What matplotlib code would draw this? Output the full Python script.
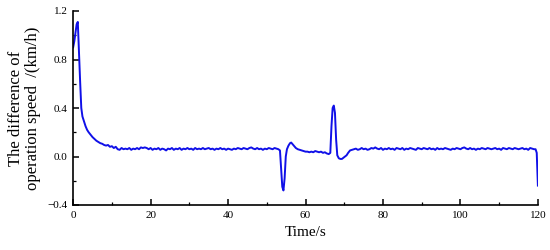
import numpy as np
import matplotlib.pyplot as plt
from matplotlib.ticker import MultipleLocator

plt.rcParams['font.family'] = ['Liberation Serif', 'DejaVu Serif']

# speed difference (km/h), piece by piece
# start-up peak
t_start = [0, 0.3, 0.6, 0.9, 1.2, 1.5, 1.8, 2.1, 2.4, 2.8, 3.2, 3.6,
           4.0, 4.5, 5.0, 5.5, 6.0, 6.5, 7.0, 7.5, 8.0, 8.5, 9.0, 9.5]
v_start = [0.90, 0.95, 1.02, 1.09, 1.11, 0.86, 0.62, 0.40, 0.33, 0.29, 0.25, 0.22,
           0.20, 0.18, 0.16, 0.145, 0.13, 0.12, 0.11, 0.105, 0.095, 0.09, 0.095, 0.08]

# steady part, sampled every 0.5 s from 10 s to 52.5 s
t_flat1 = np.arange(10, 53, 0.5)
v_flat1 = [0.085, 0.07, 0.08, 0.06, 0.055, 0.07, 0.06, 0.065, 0.06, 0.07,
           0.055, 0.065, 0.06, 0.07, 0.06, 0.075, 0.07, 0.075, 0.07, 0.06,
           0.07, 0.055, 0.065, 0.06, 0.07, 0.055, 0.065, 0.06, 0.05, 0.065,
           0.06, 0.07, 0.055, 0.065, 0.06, 0.07, 0.055, 0.065, 0.06, 0.07,
           0.06, 0.065, 0.055, 0.07, 0.06, 0.065, 0.06, 0.07, 0.06, 0.065,
           0.07, 0.06, 0.065, 0.055, 0.065, 0.06, 0.07, 0.06, 0.065, 0.055,
           0.065, 0.06, 0.055, 0.065, 0.06, 0.07, 0.065, 0.06, 0.07, 0.065,
           0.06, 0.07, 0.075, 0.065, 0.06, 0.07, 0.06, 0.065, 0.055, 0.065,
           0.06, 0.07, 0.065, 0.06, 0.07, 0.065]

# dip near 54 s
t_dip = [53.0, 53.4, 53.7, 54.0, 54.3, 54.6, 54.9, 55.2, 55.6, 56.0, 56.3, 56.7, 57.1, 57.5, 58.0]
v_dip = [0.06, 0.05, -0.10, -0.25, -0.28, -0.18, 0.0, 0.06, 0.09, 0.11, 0.115, 0.10, 0.085, 0.07, 0.06]

# lower steady part 58.5 s .. 66 s
t_mid = np.arange(58.5, 66.5, 0.5)
v_mid = [0.055, 0.05, 0.045, 0.04, 0.04, 0.035, 0.04, 0.035,
         0.045, 0.04, 0.035, 0.04, 0.03, 0.035, 0.025, 0.02]

# spike near 67 s
t_spike = [66.4, 66.7, 67.0, 67.3, 67.6, 67.9, 68.2, 68.6, 69.0, 69.4, 69.8, 70.2, 70.6, 71.0, 71.5]
v_spike = [0.03, 0.25, 0.40, 0.42, 0.36, 0.14, 0.01, -0.015, -0.02, -0.02, -0.01, 0.0, 0.01, 0.03, 0.05]

# steady part 72 s .. 119 s
t_flat2 = np.arange(72, 119.5, 0.5)
v_flat2 = [0.055, 0.06, 0.065, 0.055, 0.06, 0.07, 0.06, 0.065, 0.055, 0.06,
           0.07, 0.065, 0.075, 0.065, 0.06, 0.07, 0.055, 0.065, 0.06, 0.07,
           0.06, 0.065, 0.055, 0.07, 0.065, 0.06, 0.07, 0.055, 0.065, 0.06,
           0.07, 0.065, 0.06, 0.055, 0.07, 0.065, 0.06, 0.07, 0.065, 0.06,
           0.07, 0.06, 0.065, 0.055, 0.07, 0.06, 0.065, 0.06, 0.07, 0.065,
           0.06, 0.055, 0.065, 0.06, 0.07, 0.065, 0.06, 0.07, 0.075, 0.065,
           0.06, 0.07, 0.06, 0.065, 0.055, 0.065, 0.06, 0.07, 0.065, 0.06,
           0.07, 0.065, 0.06, 0.065, 0.07, 0.06, 0.065, 0.055, 0.07, 0.065,
           0.06, 0.07, 0.065, 0.06, 0.07, 0.065, 0.06, 0.065, 0.07, 0.06,
           0.065, 0.055, 0.07, 0.065, 0.06]

# final drop
t_end = [119.4, 119.7, 120]
v_end = [0.06, 0.03, -0.24]

time = np.concatenate([t_start, t_flat1, t_dip, t_mid, t_spike, t_flat2, t_end])
diff = np.concatenate([v_start, v_flat1, v_dip, v_mid, v_spike, v_flat2, v_end])

fig = plt.figure(figsize=(5.5, 2.5), dpi=100)
ax = fig.add_axes([0.133, 0.18, 0.845, 0.776])

ax.plot(time, diff, color='#1010e8', linewidth=1.4)

ax.set_xlim(0, 120)
ax.set_ylim(-0.4, 1.2)
ax.xaxis.set_major_locator(MultipleLocator(20))
ax.xaxis.set_minor_locator(MultipleLocator(10))
ax.yaxis.set_major_locator(MultipleLocator(0.4))
ax.yaxis.set_minor_locator(MultipleLocator(0.2))
ax.yaxis.set_major_formatter(plt.FuncFormatter(lambda v, p: f'{v:.1f}'.replace('-', '\u2212')))

for side in ['top', 'right']:
    ax.spines[side].set_visible(False)
for side in ['left', 'bottom']:
    ax.spines[side].set_linewidth(1.2)
ax.tick_params(which='major', direction='in', length=4, width=1.1, labelsize=8, pad=4)
ax.tick_params(which='minor', direction='in', length=2, width=0.9)

ax.set_xlabel('Time/s', fontsize=11, labelpad=5)
ax.set_ylabel('The difference of\noperation speed  /(km/h)', fontsize=12, linespacing=1.05, labelpad=5)

fig.savefig('out.png', dpi=100)
